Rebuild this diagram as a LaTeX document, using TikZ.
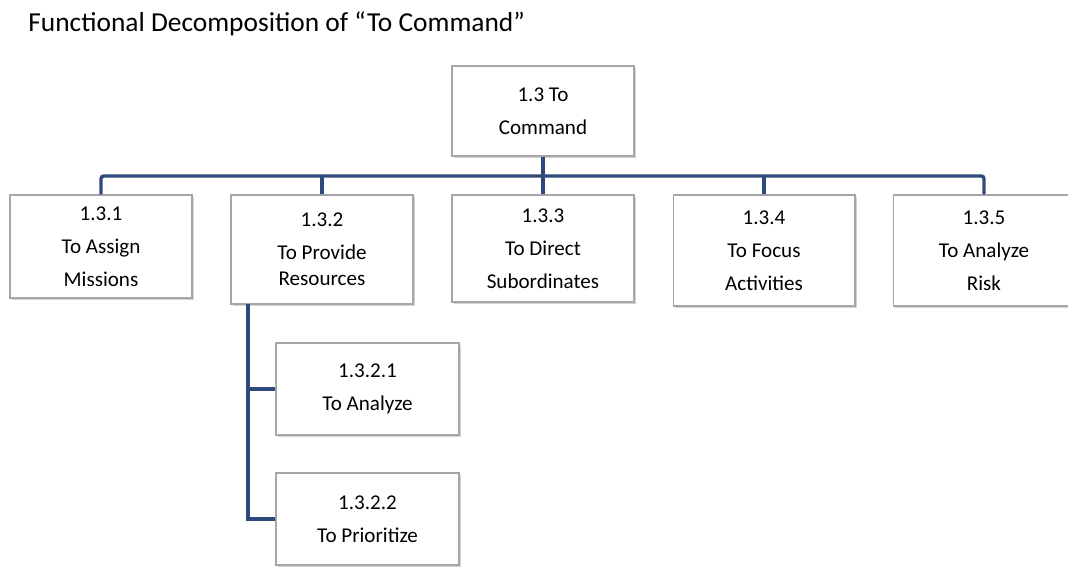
\documentclass[tikz,border=0pt]{standalone}
\usepackage{fontspec}
\setmainfont{Carlito}
\usetikzlibrary{shadows}
\definecolor{linkblue}{HTML}{2F4A7A}
\definecolor{boxgray}{HTML}{A6A6A6}
\tikzset{
  fbox/.style={draw=boxgray, line width=.6pt, fill=white, align=center,
    minimum width=3.64cm, inner sep=0pt,
    font=\fontsize{12}{18.8}\selectfont,
    drop shadow={opacity=.35, shadow xshift=1.2pt, shadow yshift=-1.2pt}},
  link/.style={linkblue, line width=1.9pt}
}

\begin{document}
\begin{tikzpicture}[x=0.02cm, y=-0.02cm]
        \useasboundingbox (0, 0) rectangle (1068, 566);
        \node[anchor=base west, inner sep=0pt, font=\fontsize{15.6}{18}\selectfont] (title) at (28, 31) {Functional Decomposition of “To Command”};
        % top level
        \node[fbox, minimum height=1.8cm] (top) at (543, 111) {1.3 To\\Command};
        % second level
        \node[fbox, minimum height=2.06cm] (a1) at (101, 246.5) {1.3.1\\To Assign\\Missions};
        \node[fbox, minimum height=2.18cm] (a2) at (322, 249.5) {1.3.2\\To Provide\\[-4pt]Resources};
        \node[fbox, minimum height=2.14cm] (a3) at (543, 248.5) {1.3.3\\To Direct\\Subordinates};
        \node[fbox, minimum height=2.22cm] (a4) at (764, 250.5) {1.3.4\\To Focus\\Activities};
        \node[fbox, minimum height=2.22cm] (a5) at (984, 250.5) {1.3.5\\To Analyze\\Risk};
        % third level
        \node[fbox, minimum width=3.66cm, minimum height=1.84cm] (b1) at (367.5, 389) {1.3.2.1\\To Analyze};
        \node[fbox, minimum width=3.66cm, minimum height=1.84cm] (b2) at (367.5, 519) {1.3.2.2\\To Prioritize};
        % connectors
        \coordinate (bus) at (543, 176);
        \coordinate (sub) at (248, 304);
        \draw[link] (top.south) -- (bus);
        \draw[link, rounded corners=1.5pt] (a1.north) -- (a1.north |- bus) -| (a5.north);
        \draw[link] (a2.north |- bus) -- (a2.north);
        \draw[link] (bus) -- (a3.north);
        \draw[link] (a4.north |- bus) -- (a4.north);
        \draw[link] (sub) |- (b2.west);
        \draw[link] (b1.west -| sub) -- (b1.west);
\end{tikzpicture}
\end{document}
